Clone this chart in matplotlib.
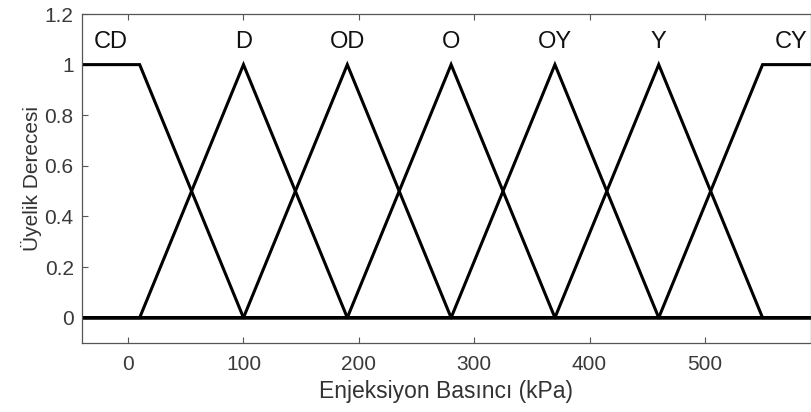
import matplotlib
matplotlib.use('Agg')
import matplotlib.pyplot as plt

plt.rcParams['font.family'] = ['Liberation Sans', 'DejaVu Sans']

# membership function break points (kPa) and membership degrees
names = ['CD', 'D', 'OD', 'O', 'OY', 'Y', 'CY']
mf_x = [[-40, 10, 100, 592],
        [-40, 10, 100, 190, 592],
        [-40, 100, 190, 280, 592],
        [-40, 190, 280, 370, 592],
        [-40, 280, 370, 460, 592],
        [-40, 370, 460, 550, 592],
        [-40, 460, 550, 592]]
mf_y = [[1, 1, 0, 0],
        [0, 0, 1, 0, 0],
        [0, 0, 1, 0, 0],
        [0, 0, 1, 0, 0],
        [0, 0, 1, 0, 0],
        [0, 0, 1, 0, 0],
        [0, 0, 1, 1]]
label_x = [-15, 100, 190, 280, 370, 460, 575]
label_y = 1.09

fig = plt.figure(figsize=(8.11, 4.12), dpi=100)
ax = fig.add_axes([0.1011, 0.1675, 0.8989, 0.7985])

for x, y in zip(mf_x, mf_y):
    ax.plot(x, y, color='black', lw=2.2, solid_joinstyle='miter')

for n, lx in zip(names, label_x):
    ax.text(lx, label_y, n, ha='center', va='center', fontsize=17, color='#111111')

ax.set_xlim(-40, 592)
ax.set_ylim(-0.1, 1.2)
ax.set_xticks([0, 100, 200, 300, 400, 500])
ax.set_yticks([0, 0.2, 0.4, 0.6, 0.8, 1, 1.2])
ax.set_yticklabels(['0', '0.2', '0.4', '0.6', '0.8', '1', '1.2'])
ax.tick_params(direction='in', length=4, width=0.8, color='#555555',
               labelsize=15, labelcolor='#3a3a3a')
ax.tick_params(axis='x', top=True, pad=9)
ax.tick_params(axis='y', pad=6)
for s in ax.spines.values():
    s.set_color('#555555')
    s.set_linewidth(0.9)

ax.set_xlabel('Enjeksiyon Basıncı (kPa)', fontsize=16.5, color='#333333', labelpad=4)
ax.set_ylabel('Üyelik Derecesi', fontsize=15, color='#333333', labelpad=2)

fig.savefig('out.png', dpi=100)
